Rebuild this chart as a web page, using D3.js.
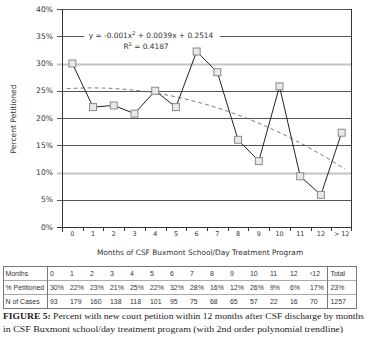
<!DOCTYPE html>
<html>
<head>
<meta charset="utf-8">
<script src="https://cdn.jsdelivr.net/npm/d3@7"></script>
<style>
  body { margin: 0; background: #fff; }
  text { fill: #333; }
</style>
</head>
<body>
<div id="chart"></div>
<script>
// data
var months = ['0', '1', '2', '3', '4', '5', '6', '7', '8', '9', '10', '11', '12', '> 12']
var pctPetitioned = [0.300, 0.220, 0.223, 0.208, 0.250, 0.220, 0.322, 0.284, 0.160, 0.121, 0.258, 0.093, 0.059, 0.173]
var yTicks = [0, 0.05, 0.10, 0.15, 0.20, 0.25, 0.30, 0.35, 0.40]
var trendCoef = [-0.001, 0.0039, 0.2514]   // a*x^2 + b*x + c, x = 1..14
var trendRange = [0.72, 14.16]
var tableHead = ['0', '1', '2', '3', '4', '5', '6', '7', '8', '9', '10', '11', '12', '›12']
var tablePct = ['30%', '22%', '23%', '21%', '25%', '22%', '32%', '28%', '16%', '12%', '26%', '9%', '6%', '17%']
var tableN = ['93', '179', '160', '138', '118', '101', '95', '75', '68', '65', '57', '22', '16', '70']
var tableRows = [
  { label: 'Months', cells: tableHead, total: 'Total' },
  { label: '% Petitioned', cells: tablePct, total: '23%' },
  { label: 'N of Cases', cells: tableN, total: '1257' }
]

var width = 371
var height = 344
var plot = { left: 62, right: 352, top: 9, bottom: 227 }
var sans = '"DejaVu Sans", sans-serif'
var tableFont = '"Liberation Sans", sans-serif'
var serif = '"Liberation Serif", "DejaVu Serif", serif'

var svg = d3.select('#chart')
  .append('svg')
  .attr('width', width)
  .attr('height', height)

var x = d3.scaleBand()
  .domain(months)
  .range([plot.left, plot.right])
  .padding(0)

var y = d3.scaleLinear()
  .domain([0, 0.4])
  .range([plot.bottom, plot.top])

var isLight = d => Math.abs(d - 0.3) < 1e-6 || Math.abs(d - 0.1) < 1e-6

// gridlines (30% and 10% drawn lighter, as in the scan)
svg.selectAll('.grid')
  .data(yTicks.filter(d => d > 0))
  .enter()
  .append('line')
  .attr('x1', plot.left - 5)
  .attr('x2', plot.right)
  .attr('y1', d => Math.round(y(d)) + 0.5)
  .attr('y2', d => Math.round(y(d)) + 0.5)
  .attr('stroke', d => isLight(d) ? '#c4c4c4' : '#555')
  .attr('stroke-width', d => isLight(d) ? 2 : 1)

// plot frame: left axis, right border, bottom axis
svg.append('line')
  .attr('x1', plot.left + 0.5).attr('x2', plot.left + 0.5)
  .attr('y1', y(0.4)).attr('y2', plot.bottom + 5)
  .attr('stroke', '#333')
svg.append('line')
  .attr('x1', plot.right - 0.5).attr('x2', plot.right - 0.5)
  .attr('y1', y(0.4)).attr('y2', plot.bottom + 4)
  .attr('stroke', '#333')
svg.append('line')
  .attr('x1', plot.left - 5).attr('x2', plot.right)
  .attr('y1', Math.round(y(0)) + 0.5).attr('y2', Math.round(y(0)) + 0.5)
  .attr('stroke', '#333')

// y tick labels
svg.selectAll('.ylab')
  .data(yTicks)
  .enter()
  .append('text')
  .attr('x', 53)
  .attr('y', d => y(d))
  .attr('dy', '0.35em')
  .attr('text-anchor', 'end')
  .style('font-family', sans)
  .style('font-size', '7.6px')
  .text(d => Math.round(d * 100) + '%')

// x ticks at band boundaries
svg.selectAll('.xtick')
  .data(months.slice(1))
  .enter()
  .append('line')
  .attr('x1', d => Math.round(x(d)) + 0.5)
  .attr('x2', d => Math.round(x(d)) + 0.5)
  .attr('y1', plot.bottom)
  .attr('y2', plot.bottom + 4)
  .attr('stroke', '#333')

svg.selectAll('.xlab')
  .data(months)
  .enter()
  .append('text')
  .attr('x', d => x(d) + x.bandwidth() / 2)
  .attr('y', plot.bottom + 9)
  .attr('text-anchor', 'middle')
  .style('font-family', sans)
  .style('font-size', '6.4px')
  .text(d => d)

// axis titles
svg.append('text')
  .attr('x', 200)
  .attr('y', 255)
  .attr('text-anchor', 'middle')
  .style('font-family', sans)
  .style('font-size', '7.4px')
  .text('Months of CSF Buxmont School/Day Treatment Program')

svg.append('text')
  .attr('transform', 'translate(16,119) rotate(-90)')
  .attr('text-anchor', 'middle')
  .style('font-family', sans)
  .style('font-size', '7.6px')
  .text('Percent Petitioned')

// trendline
var trendX = d3.scaleLinear()
  .domain([1, 14])
  .range([x(months[0]) + x.bandwidth() / 2, x(months[13]) + x.bandwidth() / 2])
var trendPts = d3.range(trendRange[0], trendRange[1] + 0.001, 0.1)
  .concat([trendRange[1]])
  .map(t => [t, trendCoef[0] * t * t + trendCoef[1] * t + trendCoef[2]])
svg.append('path')
  .datum(trendPts)
  .attr('fill', 'none')
  .attr('stroke', '#555')
  .attr('stroke-width', 0.8)
  .attr('stroke-dasharray', '4,3')
  .attr('d', d3.line().x(d => trendX(d[0])).y(d => y(d[1])))

// equation label with white background
svg.append('rect')
  .attr('x', 84).attr('y', 30)
  .attr('width', 136).attr('height', 22)
  .attr('fill', '#fff')
svg.append('text')
  .attr('x', 151).attr('y', 37.5)
  .attr('text-anchor', 'middle')
  .style('font-family', sans)
  .style('font-size', '7.4px')
  .html('y = -0.001x<tspan dy="-3" style="font-size:5px">2</tspan><tspan dy="3"> + 0.0039x + 0.2514</tspan>')
svg.append('text')
  .attr('x', 146).attr('y', 49)
  .attr('text-anchor', 'middle')
  .style('font-family', sans)
  .style('font-size', '7.4px')
  .html('R<tspan dy="-3" style="font-size:5px">2</tspan><tspan dy="3"> = 0.4187</tspan>')

// data line and markers
var cx = d => x(d) + x.bandwidth() / 2
svg.append('path')
  .datum(months)
  .attr('fill', 'none')
  .attr('stroke', '#222')
  .attr('stroke-width', 1)
  .attr('d', d3.line().x(d => cx(d)).y((d, i) => y(pctPetitioned[i])))

svg.selectAll('.pt')
  .data(months)
  .enter()
  .append('rect')
  .attr('x', d => cx(d) - 3.5)
  .attr('y', (d, i) => y(pctPetitioned[i]) - 3.5)
  .attr('width', 7)
  .attr('height', 7)
  .attr('fill', '#e8e8e8')
  .attr('stroke', '#8a8a8a')
  .attr('stroke-width', 1)

// table
var tbl = { left: 3, right: 357, top: 266.5, rowH: 14, labelW: 44.5, totalX: 327.5 }
var colW = (tbl.totalX - tbl.left - tbl.labelW) / tableHead.length
var tg = svg.append('g')

tableRows.forEach(function (row, r) {
  var ty = tbl.top + r * tbl.rowH + tbl.rowH / 2
  tg.append('text')
    .attr('x', tbl.left + 2.5).attr('y', ty).attr('dy', '0.35em')
    .style('font-family', tableFont)
    .style('font-size', '6.9px')
    .text(row.label)
  row.cells.forEach(function (c, i) {
    tg.append('text')
      .attr('x', tbl.left + tbl.labelW + 2.5 + i * colW).attr('y', ty).attr('dy', '0.35em')
      .style('font-family', tableFont)
      .style('font-size', '6.9px')
      .text(c)
  })
  tg.append('text')
    .attr('x', tbl.totalX + 3).attr('y', ty).attr('dy', '0.35em')
    .style('font-family', tableFont)
    .style('font-size', '6.9px')
    .text(row.total)
})

// table lines
d3.range(4).forEach(function (r) {
  tg.append('line')
    .attr('x1', tbl.left).attr('x2', tbl.right)
    .attr('y1', tbl.top + r * tbl.rowH).attr('y2', tbl.top + r * tbl.rowH)
    .attr('stroke', (r === 0 || r === 3) ? '#777' : '#aaa')
})
;[tbl.left + 0.5, tbl.left + tbl.labelW, tbl.totalX, tbl.right - 0.5].forEach(function (vx) {
  tg.append('line')
    .attr('x1', vx).attr('x2', vx)
    .attr('y1', tbl.top).attr('y2', tbl.top + 3 * tbl.rowH)
    .attr('stroke', '#777')
})

// caption
svg.append('text')
  .attr('x', 3).attr('y', 319)
  .attr('textLength', 361).attr('lengthAdjust', 'spacingAndGlyphs')
  .style('font-family', serif)
  .style('font-size', '8.6px').style('fill', '#222')
  .html('<tspan style="font-weight:bold">FIGURE 5:</tspan> Percent with new court petition within 12 months after CSF discharge by months')
svg.append('text')
  .attr('x', 3).attr('y', 332)
  .attr('textLength', 340).attr('lengthAdjust', 'spacingAndGlyphs')
  .style('font-family', serif)
  .style('font-size', '8.6px').style('fill', '#222')
  .text('in CSF Buxmont school/day treatment program (with 2nd order polynomial trendline)')
</script>
</body>
</html>
